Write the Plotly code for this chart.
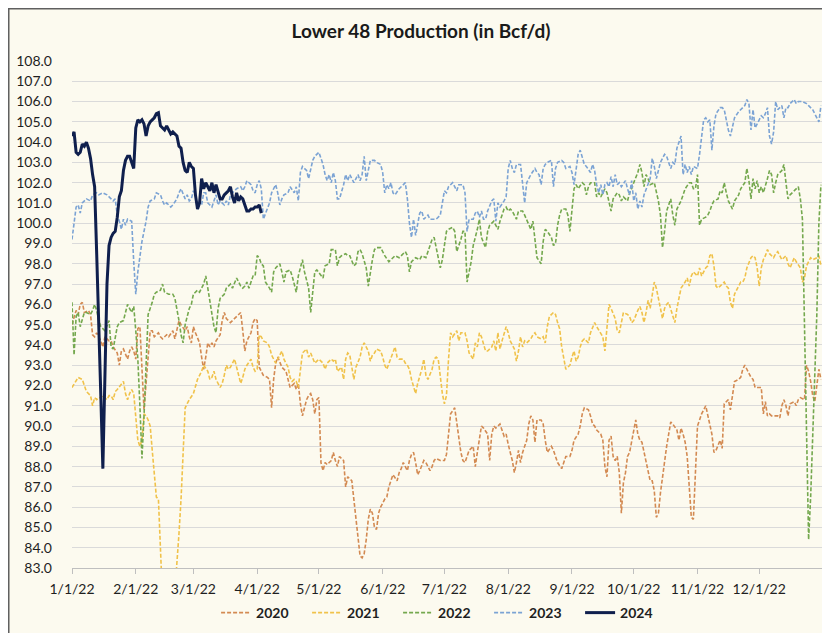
import pandas as pd
import plotly.graph_objects as go

# ---------------- data (day offset from Jan 1, value in Bcf/d) ----------------
title_text = "Lower 48 Production (in Bcf/d)"
month_starts = ["2022-01-01", "2022-02-01", "2022-03-01", "2022-04-01", "2022-05-01", "2022-06-01",
                "2022-07-01", "2022-08-01", "2022-09-01", "2022-10-01", "2022-11-01", "2022-12-01"]
month_labels = ["1/1/22", "2/1/22", "3/1/22", "4/1/22", "5/1/22", "6/1/22",
                "7/1/22", "8/1/22", "9/1/22", "10/1/22", "11/1/22", "12/1/22"]
series_names = ["2020", "2021", "2022", "2023", "2024"]

p2020 = [(0,95.0),(1,95.3),(2,95.7),(3,95.5),(4,96.0),(5,96.1),(6,95.6),(8,95.7),(9,95.5),(10,94.5),(11,94.4),(12,94.6),(14,94.2),(15,93.9),(16,94.4),(18,94.2),(19,94.2),(20,93.9),(22,93.6),(23,93.0),(24,93.7),(25,93.8),(27,93.3),(28,93.7),(29,93.9),(30,93.7),(31,93.3),(32,94.8),(33,94.9),(35,90.8),(38,94.7),(39,94.7),(40,94.4),(42,94.6),(43,94.4),(44,94.3),(46,94.5),(47,94.4),(49,94.7),(50,94.3),(51,94.7),(52,95.2),(53,95.0),(55,94.7),(56,94.9),(57,94.4),(58,94.1),(59,94.9),(60,94.6),(62,94.1),(63,93.4),(64,92.8),(65,93.4),(66,94.1),(67,93.9),(68,94.1),(69,93.9),(70,94.2),(72,94.5),(73,95.2),(74,95.6),(75,95.3),(77,95.1),(78,95.2),(80,95.4),(82,95.6),(83,94.7),(84,93.7),(85,94.2),(87,94.6),(88,95.1),(89,95.3),(90,95.2),(91,92.9),(92,92.7),(93,92.5),(95,92.4),(96,92.3),(97,90.9),(98,92.3),(99,93.1),(100,93.4),(102,92.9),(103,92.8),(104,92.7),(105,92.3),(106,91.9),(108,92.1),(109,91.8),(110,92.1),(111,91.1),(112,90.5),(113,90.9),(114,91.3),(115,91.5),(116,91.6),(117,91.3),(118,90.6),(119,91.3),(120,91.4),(121,88.2),(122,87.8),(123,88.2),(124,88.1),(126,88.3),(127,88.7),(128,88.3),(129,88.0),(130,88.5),(132,88.3),(133,87.0),(134,87.5),(136,87.3),(137,86.4),(138,85.5),(139,84.7),(140,83.6),(141,83.5),(142,83.7),(143,84.4),(144,85.4),(145,85.9),(146,85.7),(147,85.0),(148,84.9),(149,85.7),(150,86.0),(152,86.4),(153,86.5),(154,87.0),(155,87.3),(156,87.6),(158,87.3),(159,87.7),(160,87.9),(161,88.2),(163,87.8),(164,88.3),(165,88.6),(166,88.7),(167,88.2),(168,87.6),(169,87.8),(171,88.3),(172,88.2),(173,88.0),(174,87.8),(175,88.0),(176,88.3),(177,88.4),(179,88.3),(181,88.3),(182,88.6),(183,89.6),(184,90.6),(186,90.9),(187,90.1),(189,88.7),(190,88.3),(191,88.2),(192,88.5),(193,88.8),(195,89.0),(196,88.0),(197,88.7),(198,89.3),(199,90.0),(200,89.9),(202,89.6),(203,88.3),(204,89.6),(205,90.0),(206,89.9),(208,90.1),(209,89.8),(210,89.5),(211,89.6),(212,89.1),(214,88.3),(215,87.7),(216,88.2),(217,88.8),(218,88.2),(219,88.7),(221,89.3),(222,90.1),(223,90.5),(224,90.3),(225,89.2),(226,90.3),(228,90.3),(229,90.1),(230,89.3),(231,88.7),(233,89.0),(234,88.8),(235,88.5),(236,88.2),(238,87.9),(239,88.2),(240,88.5),(242,88.5),(243,88.8),(244,89.3),(246,89.6),(247,90.0),(248,90.6),(249,90.9),(251,90.8),(252,90.5),(253,90.1),(254,90.0),(255,89.8),(257,89.6),(258,89.3),(259,88.0),(260,87.5),(261,89.3),(262,89.5),(263,88.5),(264,88.3),(265,88.5),(266,87.7),(267,85.7),(268,87.2),(269,87.7),(270,88.5),(271,88.7),(272,89.3),(274,90.3),(275,89.6),(276,89.3),(277,89.2),(278,88.7),(279,88.2),(281,87.3),(282,87.3),(283,86.8),(284,85.5),(285,85.7),(286,86.7),(288,88.3),(289,89.0),(290,89.6),(291,90.2),(292,90.1),(294,89.8),(295,89.3),(296,89.9),(297,89.6),(298,89.2),(299,88.5),(300,87.0),(301,85.5),(302,85.4),(303,88.0),(304,90.0),(305,90.3),(306,90.6),(308,91.0),(309,90.5),(310,90.1),(311,89.6),(312,88.7),(313,88.8),(315,89.3),(316,88.9),(317,91.1),(319,91.3),(320,90.8),(321,91.4),(322,92.2),(324,92.3),(325,92.4),(326,92.8),(327,93.0),(328,92.8),(330,92.4),(331,92.3),(332,91.9),(333,91.9),(335,91.9),(336,90.6),(337,91.2),(338,90.5),(339,90.6),(340,90.5),(341,90.5),(343,90.5),(344,90.4),(345,91.0),(346,91.3),(347,91.0),(348,90.5),(349,91.1),(351,91.2),(352,91.0),(353,91.3),(354,91.4),(356,91.3),(357,93.0),(358,92.7),(359,92.2),(360,91.5),(361,91.2),(362,92.0),(363,92.8),(364,92.3)]

p2021 = [(0,91.9),(2,92.2),(3,92.4),(5,92.3),(6,92.0),(7,91.7),(9,91.5),(10,91.0),(11,91.4),(12,91.3),(13,91.4),(14,91.4),(15,91.5),(17,91.3),(18,91.5),(19,91.5),(20,91.3),(21,91.7),(22,91.8),(24,92.1),(25,92.2),(26,91.6),(27,91.3),(28,91.6),(29,91.8),(30,91.6),(31,90.5),(32,89.3),(33,89.0),(34,89.3),(35,90.6),(36,90.5),(37,90.3),(38,90.0),(39,88.8),(40,87.7),(41,86.5),(42,86.4),(43,83.0),(45,79.0),(48,79.0),(51,83.0),(52,84.7),(53,86.4),(54,88.8),(55,90.9),(56,91.1),(57,91.3),(59,91.6),(60,92.0),(61,92.3),(62,92.5),(63,92.7),(64,93.0),(66,92.7),(67,92.3),(68,92.4),(69,92.7),(70,92.3),(72,91.9),(73,92.1),(74,92.5),(75,93.0),(76,92.8),(77,92.9),(79,93.3),(80,92.9),(81,92.4),(82,92.1),(83,92.4),(84,92.8),(85,93.0),(87,93.3),(88,92.9),(89,92.7),(90,92.8),(91,94.5),(92,94.4),(93,94.2),(95,94.1),(96,93.9),(97,93.5),(98,93.3),(99,93.1),(101,93.5),(102,93.7),(103,93.3),(104,93.1),(105,92.9),(106,92.4),(107,92.2),(108,92.3),(109,92.2),(110,91.9),(111,92.9),(112,93.6),(114,93.8),(115,93.4),(116,93.6),(117,93.3),(118,93.1),(120,93.3),(121,93.2),(122,93.1),(123,92.8),(124,93.1),(126,93.3),(127,93.2),(128,93.3),(129,92.7),(131,92.9),(132,92.3),(133,93.3),(134,93.6),(135,93.5),(136,92.9),(137,92.3),(138,92.9),(140,93.4),(141,93.9),(142,94.1),(144,93.7),(145,93.2),(146,93.5),(147,93.6),(148,93.8),(150,93.7),(151,93.4),(152,93.0),(153,92.8),(155,93.4),(156,93.7),(157,93.9),(158,93.4),(159,93.3),(161,93.3),(162,93.1),(163,93.0),(164,92.8),(165,92.3),(167,91.6),(168,92.1),(169,92.4),(170,92.8),(171,93.3),(172,92.5),(173,92.3),(175,92.8),(176,93.3),(177,93.4),(178,93.3),(179,92.4),(180,91.6),(181,91.1),(182,91.5),(183,93.3),(184,94.6),(185,94.4),(187,94.7),(188,94.2),(189,94.6),(190,94.6),(191,94.6),(192,94.2),(193,93.6),(195,93.3),(196,94.1),(197,93.9),(198,94.6),(199,94.4),(200,94.1),(201,93.7),(202,93.7),(204,93.9),(205,94.2),(206,93.7),(207,94.6),(208,93.8),(209,94.2),(210,94.6),(211,94.9),(212,94.6),(213,94.2),(215,93.8),(216,93.2),(217,93.7),(218,94.4),(219,93.9),(220,94.2),(221,94.1),(223,94.3),(224,94.5),(225,94.6),(226,94.4),(228,94.3),(229,94.4),(230,94.1),(231,94.9),(232,95.4),(234,95.6),(235,95.5),(236,95.1),(237,94.8),(238,93.9),(239,93.4),(240,92.8),(241,92.9),(242,93.0),(243,93.4),(244,93.7),(245,93.2),(246,93.4),(247,93.9),(248,94.2),(249,94.3),(251,94.1),(252,94.6),(253,94.9),(254,95.1),(255,94.9),(257,94.6),(258,94.4),(259,93.7),(260,95.1),(261,96.0),(262,95.8),(264,95.3),(265,94.7),(266,94.6),(267,95.1),(268,95.6),(270,95.5),(271,95.4),(272,95.1),(273,95.2),(275,95.7),(276,95.9),(277,95.6),(278,95.1),(279,95.6),(280,96.2),(281,95.8),(283,97.1),(284,96.8),(286,95.8),(287,95.3),(288,95.8),(289,96.0),(290,96.1),(291,95.8),(293,95.1),(294,95.8),(295,96.3),(296,96.8),(298,97.1),(299,97.3),(300,96.9),(301,97.4),(302,97.6),(304,97.4),(305,97.8),(306,97.4),(307,97.6),(308,97.8),(309,97.9),(310,98.4),(311,98.5),(312,97.9),(313,96.9),(314,96.8),(315,96.9),(317,97.1),(318,96.9),(319,96.8),(320,96.1),(321,95.8),(322,96.5),(324,96.9),(325,97.1),(326,97.1),(327,97.3),(328,97.8),(330,98.3),(331,98.4),(332,98.3),(333,97.8),(334,96.9),(335,97.8),(336,98.2),(337,98.4),(338,98.7),(339,98.5),(341,98.3),(342,98.5),(343,98.6),(344,98.4),(345,98.2),(347,98.4),(348,98.0),(349,97.8),(350,98.1),(351,98.3),(352,98.1),(354,97.8),(355,97.1),(356,97.3),(357,97.9),(358,98.1),(359,98.3),(360,98.2),(362,98.3),(363,98.4),(364,97.9)]

p2022 = [(0,96.1),(1,93.5),(2,95.4),(3,95.6),(4,94.9),(5,95.3),(6,95.6),(7,95.6),(9,95.5),(10,95.7),(11,96.0),(12,95.7),(13,95.2),(14,94.9),(16,94.7),(18,95.2),(19,93.9),(20,93.8),(22,94.9),(23,95.1),(25,95.2),(26,95.6),(27,96.0),(29,95.6),(30,95.9),(31,94.7),(32,93.3),(33,91.0),(34,88.4),(35,90.5),(36,93.0),(37,95.5),(39,96.1),(40,96.5),(41,96.6),(43,96.7),(44,97.0),(45,96.6),(47,96.5),(49,96.5),(50,96.3),(51,95.8),(52,95.2),(53,94.5),(54,94.1),(55,95.0),(57,95.8),(58,96.0),(59,96.5),(61,96.7),(62,96.6),(64,97.0),(65,97.4),(66,96.8),(67,96.1),(68,95.6),(69,94.9),(70,94.6),(71,95.8),(72,96.3),(74,96.5),(75,96.8),(77,97.0),(78,96.8),(79,97.1),(80,97.3),(82,96.9),(83,96.8),(84,96.9),(85,97.1),(86,96.8),(88,97.4),(89,97.4),(90,98.4),(91,98.3),(92,98.0),(93,97.9),(94,97.1),(96,96.8),(97,96.6),(98,97.6),(99,97.8),(100,97.9),(101,98.0),(102,97.6),(103,97.1),(104,97.6),(106,97.7),(107,97.4),(108,97.0),(109,96.6),(110,97.4),(111,97.8),(112,98.2),(113,97.6),(115,96.8),(116,95.6),(117,96.8),(118,97.6),(119,97.7),(121,97.4),(122,97.3),(123,97.9),(125,98.0),(126,98.7),(128,98.7),(129,97.9),(130,98.3),(131,98.4),(133,98.5),(134,98.4),(135,98.4),(137,97.9),(138,98.0),(139,98.6),(140,98.7),(141,98.5),(143,97.8),(144,96.9),(145,97.6),(146,98.2),(147,98.7),(148,98.8),(150,98.8),(151,98.6),(152,98.4),(154,98.1),(156,98.3),(157,98.4),(159,98.3),(160,98.4),(162,98.6),(163,98.4),(164,97.6),(165,98.1),(167,98.3),(169,98.2),(170,98.4),(172,98.3),(173,98.6),(175,99.2),(176,99.3),(177,98.8),(179,97.8),(180,98.2),(182,99.6),(183,99.7),(185,99.8),(186,99.6),(187,98.6),(189,99.2),(190,99.6),(191,99.6),(192,97.1),(194,98.1),(195,98.9),(197,99.7),(198,100.2),(199,99.3),(201,98.8),(202,99.6),(203,99.9),(205,100.1),(207,99.7),(208,100.1),(210,100.7),(211,100.8),(212,100.6),(213,100.7),(214,100.6),(216,100.2),(217,100.6),(218,100.6),(219,100.6),(220,100.4),(222,99.9),(223,99.7),(224,100.1),(225,99.1),(226,98.3),(228,98.0),(229,99.1),(230,99.7),(231,99.6),(233,99.3),(234,98.9),(235,99.0),(236,99.9),(237,100.4),(238,100.7),(240,100.7),(241,100.4),(242,99.6),(243,100.6),(244,101.7),(245,101.9),(246,101.7),(248,102.0),(249,101.9),(250,101.4),(251,101.8),(252,102.0),(254,102.0),(255,101.3),(256,101.5),(257,101.3),(259,101.7),(260,101.5),(261,101.1),(262,100.6),(263,101.2),(265,101.5),(266,101.4),(267,101.1),(268,101.3),(270,101.1),(271,101.5),(272,101.7),(273,102.0),(275,102.5),(276,102.9),(277,102.5),(278,101.8),(279,102.4),(280,102.2),(281,101.9),(283,102.0),(284,101.5),(285,101.1),(286,100.4),(287,98.8),(288,99.6),(289,100.6),(290,100.9),(291,101.2),(292,100.4),(293,99.9),(294,100.7),(296,101.1),(297,101.4),(298,101.7),(300,102.0),(301,102.0),(302,101.7),(303,101.7),(304,102.4),(305,99.9),(306,100.2),(308,100.3),(309,100.4),(310,100.6),(311,100.9),(312,101.1),(314,101.2),(315,101.6),(316,101.5),(317,102.0),(318,101.5),(319,101.1),(321,100.7),(322,101.1),(324,101.4),(325,101.7),(327,102.0),(328,102.7),(329,102.1),(330,101.2),(331,102.2),(332,101.7),(333,102.1),(334,101.5),(335,101.8),(336,101.5),(338,102.2),(339,102.6),(340,102.4),(341,101.5),(342,102.0),(343,102.4),(345,102.6),(346,102.9),(347,102.0),(348,101.2),(349,101.4),(351,101.6),(353,101.8),(354,101.2),(355,100.2),(356,95.0),(357,89.5),(358,84.4),(359,86.5),(360,89.5),(361,92.5),(362,95.5),(363,100.0),(364,101.9)]

p2023 = [(0,99.2),(2,100.8),(3,100.9),(4,100.5),(5,101.0),(7,101.2),(9,101.1),(10,101.4),(12,101.5),(13,101.4),(15,101.5),(17,101.4),(19,101.2),(20,101.1),(21,101.2),(22,100.4),(23,100.1),(24,99.7),(25,100.2),(26,99.9),(27,100.2),(29,100.1),(30,98.1),(31,96.5),(32,97.6),(34,99.1),(36,100.1),(37,100.8),(38,101.1),(40,101.2),(41,101.5),(43,101.4),(44,101.1),(45,100.9),(46,101.0),(48,100.8),(49,100.9),(51,101.2),(52,101.5),(53,101.7),(55,101.2),(56,101.4),(57,101.1),(58,101.2),(59,101.6),(60,101.4),(61,100.7),(62,101.0),(63,100.9),(64,101.5),(65,101.5),(66,101.0),(68,100.8),(69,101.1),(70,101.4),(71,100.9),(72,101.1),(74,100.9),(75,101.1),(76,100.9),(77,101.4),(79,101.6),(80,101.7),(82,101.8),(83,101.6),(84,101.8),(85,102.1),(87,101.9),(88,101.6),(89,101.5),(90,101.9),(91,102.1),(92,101.7),(93,100.2),(95,100.7),(96,101.0),(97,101.5),(99,101.9),(100,101.5),(101,100.9),(102,101.2),(103,101.4),(105,101.5),(106,101.8),(108,101.5),(109,101.8),(110,101.1),(111,102.5),(112,102.8),(114,102.6),(115,102.2),(116,102.6),(117,103.1),(118,103.3),(119,103.4),(120,103.5),(122,102.9),(123,102.4),(124,102.1),(125,102.4),(126,102.0),(127,102.5),(128,102.1),(129,101.2),(130,101.2),(132,101.9),(133,102.4),(134,102.1),(135,102.4),(136,102.2),(137,102.0),(139,102.4),(140,102.1),(141,102.4),(142,103.3),(143,102.1),(144,102.6),(145,103.1),(147,103.1),(148,103.0),(150,102.9),(151,102.5),(152,101.5),(153,101.9),(154,101.7),(155,102.0),(156,101.5),(157,101.4),(159,101.7),(161,101.9),(162,102.0),(163,101.2),(164,100.0),(165,99.3),(166,100.2),(167,99.4),(168,100.0),(169,100.5),(170,100.6),(171,100.2),(173,100.4),(174,100.2),(176,100.2),(177,100.2),(179,100.4),(181,101.6),(182,101.5),(183,101.8),(185,102.0),(187,101.6),(188,101.9),(190,101.9),(191,101.5),(192,99.6),(193,100.2),(195,100.2),(196,100.5),(197,100.6),(198,100.3),(199,100.6),(200,100.2),(201,100.2),(202,100.6),(204,101.1),(205,101.2),(206,100.1),(207,101.0),(208,100.8),(210,101.1),(211,101.3),(212,102.7),(213,103.1),(214,102.7),(215,102.5),(216,102.9),(217,102.9),(218,102.9),(220,101.0),(221,102.0),(222,102.2),(223,102.4),(225,102.7),(226,102.5),(227,102.4),(228,101.9),(229,102.7),(230,102.9),(231,103.0),(233,103.1),(234,101.8),(235,102.7),(236,103.0),(238,103.1),(239,103.0),(240,102.7),(242,102.8),(243,102.5),(244,101.9),(245,102.7),(246,103.4),(247,103.6),(248,103.2),(249,102.9),(250,102.8),(252,102.5),(253,102.9),(254,102.6),(255,101.9),(256,101.5),(257,101.9),(258,101.4),(259,101.9),(260,102.0),(261,101.8),(262,102.3),(263,101.8),(264,102.4),(265,101.9),(266,102.0),(267,101.8),(269,102.1),(270,101.7),(271,101.4),(272,102.1),(273,101.1),(274,101.5),(275,100.7),(276,101.1),(277,100.8),(278,101.4),(280,101.9),(281,102.2),(282,103.2),(283,102.8),(284,102.2),(285,102.6),(286,103.0),(288,103.4),(289,103.3),(291,102.7),(292,103.0),(293,102.9),(294,103.7),(296,104.3),(297,102.4),(298,102.9),(299,102.5),(300,102.8),(301,102.4),(302,102.8),(304,102.7),(305,103.4),(306,104.3),(307,105.1),(308,105.2),(309,105.0),(310,105.1),(311,103.6),(312,104.8),(313,105.4),(315,105.7),(316,105.7),(317,105.6),(319,104.6),(320,104.3),(321,104.8),(322,105.2),(324,105.5),(325,105.6),(327,105.8),(328,106.1),(329,105.9),(330,104.6),(331,105.6),(332,104.7),(334,105.1),(335,105.3),(336,105.2),(337,105.4),(338,105.7),(339,104.3),(340,103.9),(341,104.5),(342,106.0),(343,105.6),(345,105.8),(346,105.2),(347,105.7),(348,105.7),(349,105.9),(351,106.1),(352,105.9),(353,106.0),(355,106.0),(357,105.9),(358,105.8),(360,105.6),(362,105.2),(363,105.0),(364,105.8)]

p2024 = [(0,104.3),(1,104.5),(2,103.5),(3,103.4),(4,103.5),(5,103.9),(6,103.8),(7,104.0),(8,103.7),(9,103.2),(10,102.4),(11,101.8),(12,98.5),(13,95.5),(14,91.5),(15,87.9),(16,92.0),(17,97.0),(18,98.9),(19,99.3),(20,99.5),(21,99.6),(22,100.3),(23,101.3),(24,101.6),(25,102.6),(26,103.1),(27,103.3),(28,103.3),(29,103.0),(30,102.7),(31,104.7),(32,105.1),(33,105.0),(34,105.1),(35,104.9),(36,104.3),(37,104.8),(38,105.0),(39,105.1),(40,105.2),(41,105.4),(42,105.45),(43,104.8),(44,104.7),(45,104.6),(46,104.8),(47,104.6),(48,104.4),(49,104.5),(50,104.4),(51,104.3),(52,103.8),(53,103.7),(54,103.0),(55,102.6),(56,102.5),(57,103.0),(58,102.8),(59,102.7),(60,101.4),(61,100.7),(62,101.0),(63,102.2),(64,101.7),(65,102.0),(66,101.8),(67,101.6),(68,102.0),(69,101.5),(70,101.9),(71,101.5),(72,101.2),(73,101.2),(74,101.4),(75,101.5),(76,101.6),(77,101.8),(78,101.3),(79,101.0),(80,101.5),(81,101.1),(82,101.3),(83,101.2),(84,100.9),(85,100.6),(86,100.6),(87,100.7),(88,100.7),(89,100.8),(90,100.8),(91,100.9),(92,100.5)]

series_points = [p2020, p2021, p2022, p2023, p2024]
series_colors = ["#D38A52", "#F0C24A", "#74A84E", "#7BA3D4", "#0F1F4D"]

# ---------------- figure ----------------
base = pd.Timestamp("2022-01-01")
fig = go.Figure()
for name, pts, color in zip(series_names, series_points, series_colors):
    days = [p[0] for p in pts]
    vals = [p[1] for p in pts]
    x = base + pd.to_timedelta(days, unit="D")
    if name == "2024":
        line = dict(color=color, width=3)
    else:
        line = dict(color=color, width=1.6, dash="4px,2px")
    fig.add_trace(go.Scatter(x=x, y=vals, mode="lines", name=name, line=line))

FONT = "Lato, 'Open Sans', sans-serif"
fig.update_layout(
    width=830, height=633,
    margin=dict(l=64, r=15, t=53, b=73, autoexpand=False),
    paper_bgcolor="white",
    plot_bgcolor="rgba(0,0,0,0)",
    font=dict(family=FONT, size=14, color="#1f1f1f"),
    title=dict(text="<b>" + title_text + "</b>", x=0.4976, xref="container", xanchor="center",
               y=0.9637, yref="container", yanchor="middle",
               font=dict(family=FONT, size=19, color="#1a1a1a")),
    showlegend=True,
    legend=dict(orientation="h", x=0.5248, xref="container", xanchor="center",
                y=0.0442, yref="container", yanchor="middle",
                bgcolor="rgba(0,0,0,0)", font=dict(family=FONT, size=14, color="#1f1f1f", weight="bold"),
                itemwidth=30, entrywidth=46, traceorder="normal"),
    shapes=[dict(type="rect", xref="paper", yref="paper", x0=-0.0842, x1=1.05, y0=-0.2, y1=1.1031,
                 line=dict(color="#5f5f5f", width=1.5), fillcolor="#FCFAEF", layer="below")],
)
fig.update_xaxes(
    type="date", range=["2022-01-01", "2023-01-01"], automargin=False,
    tickvals=month_starts, ticktext=month_labels,
    showgrid=False, showline=True, linecolor="#BFBFBF", linewidth=1,
    ticks="outside", ticklen=5, tickcolor="#BFBFBF", ticklabelstandoff=3,
    tickfont=dict(family=FONT, size=14, color="#1f1f1f"),
)
fig.update_yaxes(
    range=[83, 108], dtick=1, tick0=83, tickformat=".1f", automargin=False,
    showgrid=True, gridcolor="#DADADA", gridwidth=1, zeroline=False, showline=False,
    ticks="", ticklabelstandoff=19,
    tickfont=dict(family=FONT, size=14, color="#1f1f1f"),
)

fig.write_html("out.html")
